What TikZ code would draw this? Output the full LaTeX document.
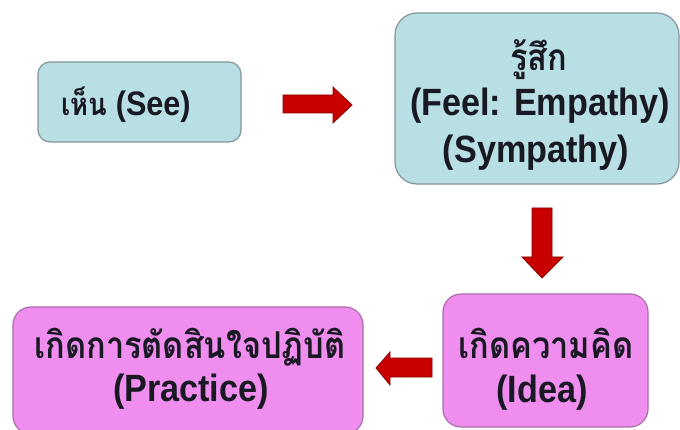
\documentclass[tikz,border=0pt]{standalone}
\usepackage{fontspec}
\setmainfont{Liberation Sans}[FakeStretch=0.9]
\newfontfamily\thaifont[Script=Thai,FakeStretch=0.88]{Loma}
\definecolor{cyanfill}{RGB}{184,223,228}
\definecolor{cyanedge}{RGB}{130,150,152}
\definecolor{pinkfill}{RGB}{240,142,240}
\definecolor{pinkedge}{RGB}{170,110,170}
\definecolor{arrowred}{RGB}{200,0,0}
\definecolor{arrowedge}{RGB}{140,0,0}
\definecolor{txtcol}{RGB}{25,25,35}
\begin{document}
\begin{tikzpicture}[x=1pt,y=-1pt,
  cbox/.style={draw=cyanedge,line width=1.2pt,fill=cyanfill,rounded corners=#1},
  pbox/.style={draw=pinkedge,line width=1.2pt,fill=pinkfill,rounded corners=#1},
  txt/.style={anchor=base,inner sep=0pt,text=txtcol,text height=28pt,text depth=6pt,font=\fontsize{38}{44}\selectfont\bfseries},
  thtxt/.style={anchor=base,inner sep=0pt,text=txtcol,text height=30pt,text depth=2pt,font=\fontsize{37}{40}\selectfont\thaifont\bfseries},
  blockarrow/.style={fill=arrowred,draw=arrowedge,line width=0.8pt,line join=miter}]
\useasboundingbox (0,0) rectangle (680,430);
\fill[white] (0,0) rectangle (680,430);
% boxes
\draw[cbox=12pt] (38,62) rectangle (241,142);
\draw[cbox=22pt] (395,13) rectangle (679,184);
\draw[pbox=18pt] (443,294) rectangle (648,427);
\draw[pbox=18pt] (13,307) rectangle (363,434);
% texts
\node[txt,font=\fontsize{34}{40}\selectfont\bfseries] (see) at (126,116) {{\fontsize{31}{36}\selectfont\thaifont เห็น} (See)};
\node[thtxt] (feel0) at (539,71) {รู้สึก};
\node[txt] (feel1) at (540,116) {(Feel: Empathy)};
\node[txt] (feel2) at (536,163) {(Sympathy)};
\node[thtxt] (idea0) at (546,359) {เกิดความคิด};
\node[txt] (idea1) at (542,402) {(Idea)};
\node[thtxt] (prac0) at (190,358) {เกิดการตัดสินใจปฏิบัติ};
\node[txt] (prac1) at (191,401) {(Practice)};
% block arrows
\draw[blockarrow] (283,95) -- (333,95) -- (333,87) -- (352,105) -- (333,123) -- (333,113) -- (283,113) -- cycle;
\draw[blockarrow] (532,208) -- (552,208) -- (552,257) -- (563,257) -- (542,278) -- (522,257) -- (532,257) -- cycle;
\draw[blockarrow] (432,358) -- (390,358) -- (390,352) -- (376,368) -- (390,385) -- (390,377) -- (432,377) -- cycle;
\end{tikzpicture}
\end{document}
